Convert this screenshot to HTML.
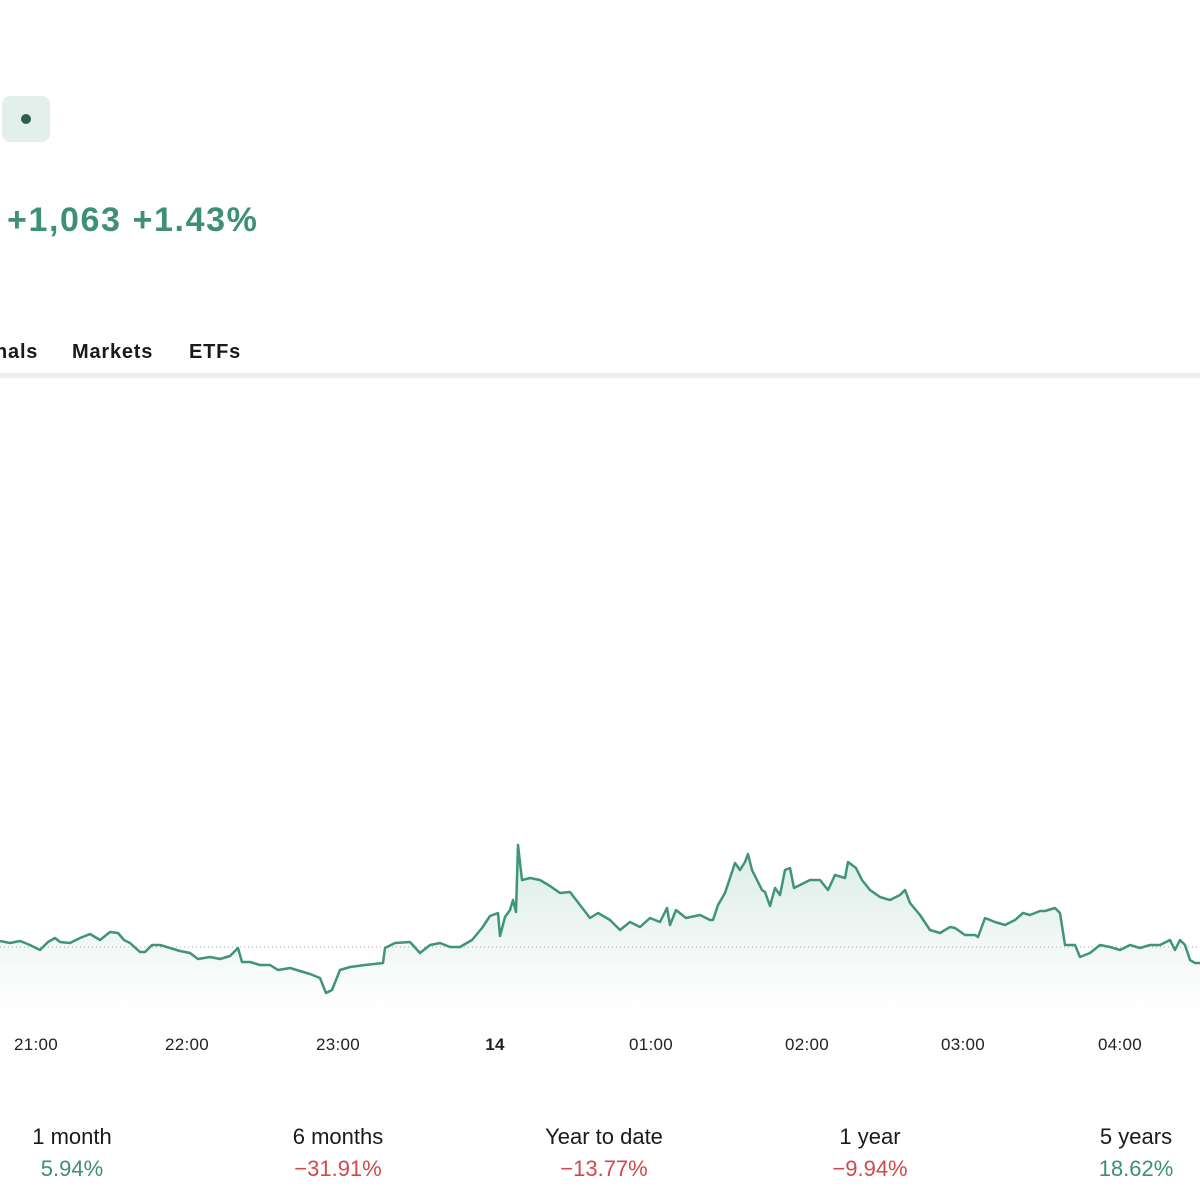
<!DOCTYPE html>
<html><head><meta charset="utf-8"><style>
body{margin:0;width:1200px;height:1200px;background:#fff;font-family:"Liberation Sans",sans-serif;position:relative;overflow:hidden}
.a{position:absolute;white-space:nowrap}
.g{color:#3f8f72}.r{color:#d0494c}
.t{font-size:20px;color:#1a1a1a;font-weight:bold;top:341px;letter-spacing:0.8px}
.x{font-size:17px;color:#222;top:1035px;transform:translateX(-50%);letter-spacing:0.3px}
.p{font-size:22px;transform:translateX(-50%);text-align:center}
</style></head><body>
<div class="a" style="left:2px;top:96px;width:48px;height:46px;background:#e2efea;border-radius:8px"></div>
<div class="a" style="left:21px;top:114px;width:10px;height:10px;background:#2f5d4d;border-radius:50%"></div>
<div class="a g" style="left:7px;top:201px;font-size:34px;font-weight:bold;letter-spacing:1.6px">+1,063 +1.43%</div>
<div class="a t" style="left:-5px">nals</div>
<div class="a t" style="left:72px">Markets</div>
<div class="a t" style="left:189px">ETFs</div>
<div class="a" style="left:0;top:373px;width:1200px;height:5px;background:#eeeeee"></div>
<svg class="a" style="left:0;top:0" width="1200" height="1200">
<defs><linearGradient id="f" x1="0" y1="0" x2="0" y2="1"><stop offset="0" stop-color="#dcece6"/><stop offset="1" stop-color="#fff"/></linearGradient></defs>
<polygon fill="url(#f)" points="0,941 10,943 20,941 30,945 40,950 48,942 55,938 60,942 70,943 80,938 90,934 100,940 110,932 118,933 124,940 130,943 140,952 145,952 152,945 160,945 170,948 180,951 190,953 198,959 210,957 220,959 230,956 238,948 242,962 250,962 260,965 270,965 278,970 290,968 300,971 310,974 320,978 326,993 332,990 340,970 350,967 365,965 383,963 385,948 395,943 410,942 420,953 430,945 440,943 450,947 460,947 472,940 482,928 490,916 498,913 500,936 505,917 510,910 513,900 516,912 518,845 522,880 530,878 540,880 550,886 560,893 570,892 580,905 590,918 598,913 610,920 620,930 630,922 640,927 650,918 660,922 667,908 670,925 676,910 686,918 700,915 710,920 713,920 718,905 725,893 730,878 735,863 740,870 745,862 748,854 752,870 758,882 762,890 765,892 770,906 775,888 780,895 785,870 790,868 794,888 800,885 810,880 820,880 828,890 835,875 845,878 848,862 856,868 862,880 870,890 880,897 890,900 900,895 905,890 910,903 920,915 930,930 940,933 950,927 955,928 965,935 975,935 978,937 985,918 995,922 1005,925 1015,920 1023,913 1030,915 1040,911 1045,911 1055,908 1060,913 1065,945 1070,945 1075,945 1080,957 1090,953 1100,945 1110,947 1120,950 1130,945 1140,948 1150,945 1160,945 1170,940 1175,950 1180,940 1185,945 1190,960 1195,963 1200,963 1200,1012 0,1012"/>
<line x1="0" y1="947" x2="1200" y2="947" stroke="#aaa" stroke-width="1" stroke-dasharray="1,3"/>
<polyline fill="none" stroke="#3f9479" stroke-width="2.5" stroke-linejoin="round" points="0,941 10,943 20,941 30,945 40,950 48,942 55,938 60,942 70,943 80,938 90,934 100,940 110,932 118,933 124,940 130,943 140,952 145,952 152,945 160,945 170,948 180,951 190,953 198,959 210,957 220,959 230,956 238,948 242,962 250,962 260,965 270,965 278,970 290,968 300,971 310,974 320,978 326,993 332,990 340,970 350,967 365,965 383,963 385,948 395,943 410,942 420,953 430,945 440,943 450,947 460,947 472,940 482,928 490,916 498,913 500,936 505,917 510,910 513,900 516,912 518,845 522,880 530,878 540,880 550,886 560,893 570,892 580,905 590,918 598,913 610,920 620,930 630,922 640,927 650,918 660,922 667,908 670,925 676,910 686,918 700,915 710,920 713,920 718,905 725,893 730,878 735,863 740,870 745,862 748,854 752,870 758,882 762,890 765,892 770,906 775,888 780,895 785,870 790,868 794,888 800,885 810,880 820,880 828,890 835,875 845,878 848,862 856,868 862,880 870,890 880,897 890,900 900,895 905,890 910,903 920,915 930,930 940,933 950,927 955,928 965,935 975,935 978,937 985,918 995,922 1005,925 1015,920 1023,913 1030,915 1040,911 1045,911 1055,908 1060,913 1065,945 1070,945 1075,945 1080,957 1090,953 1100,945 1110,947 1120,950 1130,945 1140,948 1150,945 1160,945 1170,940 1175,950 1180,940 1185,945 1190,960 1195,963 1200,963"/>
</svg>
<div class="a x" style="left:36px">21:00</div>
<div class="a x" style="left:187px">22:00</div>
<div class="a x" style="left:338px">23:00</div>
<div class="a x" style="left:495px;font-weight:bold">14</div>
<div class="a x" style="left:651px">01:00</div>
<div class="a x" style="left:807px">02:00</div>
<div class="a x" style="left:963px">03:00</div>
<div class="a x" style="left:1120px">04:00</div>
<div class="a p" style="left:72px;top:1124px;color:#1a1a1a">1 month</div>
<div class="a p g" style="left:72px;top:1156px">5.94%</div>
<div class="a p" style="left:338px;top:1124px;color:#1a1a1a">6 months</div>
<div class="a p r" style="left:338px;top:1156px">−31.91%</div>
<div class="a p" style="left:604px;top:1124px;color:#1a1a1a">Year to date</div>
<div class="a p r" style="left:604px;top:1156px">−13.77%</div>
<div class="a p" style="left:870px;top:1124px;color:#1a1a1a">1 year</div>
<div class="a p r" style="left:870px;top:1156px">−9.94%</div>
<div class="a p" style="left:1136px;top:1124px;color:#1a1a1a">5 years</div>
<div class="a p g" style="left:1136px;top:1156px">18.62%</div>
</body></html>
